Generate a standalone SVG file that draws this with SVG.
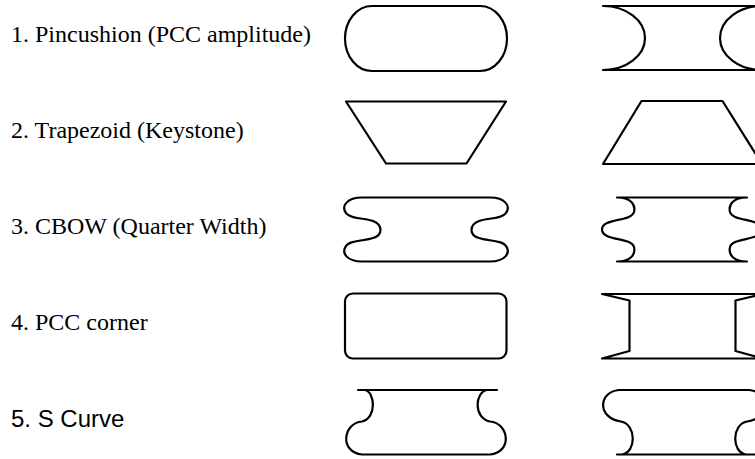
<svg xmlns="http://www.w3.org/2000/svg" width="755" height="459" viewBox="0 0 755 459">
<style>
.s{fill:none;stroke:#000;stroke-width:2.2;stroke-linejoin:round;stroke-linecap:round}
.t{font-family:"Liberation Serif","Times New Roman",serif;font-size:24px;fill:#000}
.a{font-family:"Liberation Sans",Arial,sans-serif;font-size:24px;fill:#000}
</style>
<rect width="755" height="459" fill="#fff"/>
<g id="row1">
<text class="t" x="11" y="42">1. Pincushion (PCC amplitude)</text>
<path class="s" d="M372,6 L480,6 A27,32.5 0 0 1 480,71 L372,71 A27,32.5 0 0 1 372,6 Z"/>
<path class="s" d="M603,6 L765,6 M603,70 L765,70 M603,6 A42,32 0 0 1 603,70 M762,6 A42,32 0 0 0 762,70"/>
</g>
<g id="row2">
<text class="t" x="11" y="138">2. Trapezoid (Keystone)</text>
<polygon class="s" points="346,101.5 506,101.5 466.5,163.5 386,163.5"/>
<polygon class="s" points="641.5,101 722.5,101 762,164 603,164"/>
</g>
<g id="row3">
<text class="t" x="11" y="234">3. CBOW (Quarter Width)</text>
<path class="s" d="M362,197.5 L490,197.5 C505,197.5 511,206 506,213 C502,219 487,218 479,221 C469,225 469,235 479,238 C487,241 502,240 506,246 C511,253 505,261.5 490,261.5 L362,261.5 C347,261.5 341,253 346,246 C350,240 365,241 373,238 C383,235 383,225 373,221 C365,218 350,219 346,213 C341,206 347,197.5 362,197.5 Z"/>
<path class="s" d="M617,197.5 L747,197.5 C734,197.5 728,204 730,212 C733,222 762,218 762,229.5 C762,241 733,237 730,247 C728,255 734,261.5 747,261.5 L617,261.5 C630,261.5 636,255 634,247 C631,237 602,241 602,229.5 C602,218 631,222 634,212 C636,204 630,197.5 617,197.5 Z"/>
</g>
<g id="row4">
<text class="t" x="11" y="330">4. PCC corner</text>
<rect class="s" x="345" y="293.5" width="161.5" height="65" rx="8"/>
<polygon class="s" points="602,294 763,294 735.5,300.5 735.5,351 763,358.5 602,358.5 629.5,351 629.5,300.5"/>
</g>
<g id="row5">
<text class="a" x="11" y="427">5. S Curve</text>
<path class="s" d="M358,390 L497,390 M487,390 C475,392 473,418 490,421.5 C509,423 513,452 490,454.5 L362,454.5 C339,452 343,423 362,421.5 C377,418 375,392 365,390"/>
<path class="s" d="M617,454.5 L765,454.5 M619,390 L749,390 C770,392 771,418 747,421.5 C732,424 731,452 746,454.5 M622,454.5 C637,452 636,424 621,421.5 C597,418 598,392 619,390"/>
</g>
</svg>
